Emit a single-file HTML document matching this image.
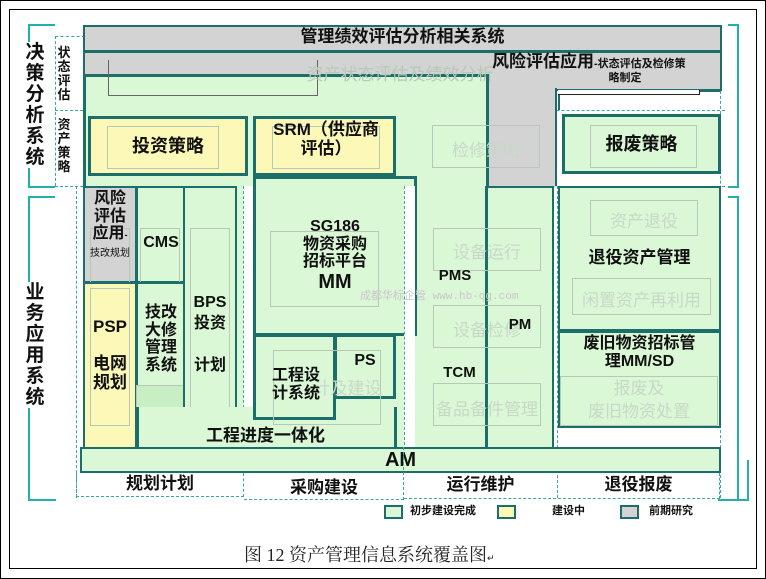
<!DOCTYPE html>
<html><head><meta charset="utf-8"><style>
*{margin:0;padding:0;box-sizing:border-box}
body{width:766px;height:579px;background:#fff;position:relative;overflow:hidden;font-family:"Liberation Sans","Noto Sans CJK SC",sans-serif}
.a{position:absolute}
.g{background:#daf8d6}
.y{background:#fbf8b8}
.gr{background:#d3d3d3}
.b{border:2px solid #1c6e6a}
.b3{border:3px solid #1c6e6a}
.f{border:1px solid #b8c8b8}
.t{font-weight:bold;color:#111;text-align:center;line-height:1.1}
.ft{color:#c8d8c8;text-align:center;font-size:17px}
.dash{border:0 dashed #3aa89e}
.tl{background:#22b0a8}
</style></head><body>
<div class="a" style="left:0;top:0;width:766px;height:579px;border:1px solid #000"></div>
<div class="a" style="left:9px;top:9px;width:748px;height:560px;border:1px solid #000"></div>

<!-- teal brackets -->
<div class="a tl" style="left:28px;top:24px;width:2px;height:164px"></div>
<div class="a tl" style="left:28px;top:24px;width:27px;height:2px"></div>
<div class="a tl" style="left:28px;top:186px;width:27px;height:2px"></div>
<div class="a tl" style="left:28px;top:196px;width:2px;height:305px"></div>
<div class="a tl" style="left:28px;top:196px;width:27px;height:2px"></div>
<div class="a tl" style="left:28px;top:499px;width:28px;height:2px"></div>
<div class="a tl" style="left:737px;top:24px;width:2px;height:164px"></div>
<div class="a tl" style="left:728px;top:24px;width:10px;height:2px"></div>
<div class="a tl" style="left:728px;top:186px;width:10px;height:2px"></div>
<div class="a tl" style="left:737px;top:196px;width:2px;height:305px"></div>
<div class="a tl" style="left:728px;top:196px;width:10px;height:2px"></div>
<div class="a tl" style="left:718px;top:499px;width:31px;height:2px"></div>
<div class="a tl" style="left:747px;top:460px;width:2px;height:41px"></div>

<!-- left labels -->
<div class="a t" style="left:24px;top:42px;width:22px;font-size:19px;background:#fff;line-height:21px">决<br>策<br>分<br>析<br>系<br>统</div>
<div class="a t" style="left:24px;top:282px;width:22px;font-size:19px;background:#fff;line-height:21px">业<br>务<br>应<br>用<br>系<br>统</div>
<div class="a t" style="left:56px;top:46px;width:16px;font-size:13px;line-height:14px">状<br>态<br>评<br>估</div>
<div class="a t" style="left:56px;top:118px;width:16px;font-size:13px;line-height:14px">资<br>产<br>策<br>略</div>
<div class="a dash" style="left:55px;top:36px;width:30px;border-top-width:1px"></div>
<div class="a dash" style="left:55px;top:110px;width:670px;border-top-width:1px"></div>
<div class="a dash" style="left:55px;top:186px;width:670px;border-top-width:1px"></div>
<div class="a dash" style="left:55px;top:36px;height:150px;border-left-width:1px"></div>
<div class="a dash" style="left:76px;top:186px;height:312px;border-left-width:1px"></div>
<div class="a dash" style="left:720px;top:36px;height:462px;border-left-width:1px"></div>

<!-- top gray layers -->
<div class="a gr b" style="left:83px;top:25px;width:639px;height:27px"></div>
<div class="a t" style="left:83px;top:28px;width:639px;font-size:17px">管理绩效评估分析相关系统</div>
<div class="a gr b" style="left:83px;top:51px;width:639px;height:40px"></div>
<div class="a gr" style="left:487px;top:88px;width:70px;height:98px;border-right:2px solid #1c6e6a"></div>
<div class="a g b3" style="left:83px;top:74px;width:406px;height:378px"></div>
<div class="a" style="left:108px;top:60px;width:210px;height:36px;border:1px solid #666;border-top:0"></div>
<div class="a ft" style="left:300px;top:60px;width:200px;color:#b8c8b8">资产状态评估及绩效分析</div>
<div class="a" style="left:558px;top:90px;width:162px;height:20px;background:#fff;border-top:2px solid #1c6e6a;border-left:2px solid #1c6e6a"></div>
<div class="a" style="left:558px;top:90px;width:142px;height:5px;border-bottom:1px solid #222;border-right:1px solid #222;background:#fff"></div>
<div class="a t" style="left:492px;top:53px;width:225px;font-size:17px;text-align:left">风险评估应用<span style="font-size:11px">-状态评估及检修策</span></div>
<div class="a t" style="left:585px;top:72px;width:80px;font-size:11px">略制定</div>

<!-- strategy row -->
<div class="a y b3" style="left:88px;top:116px;width:160px;height:60px"></div>
<div class="a f" style="left:107px;top:126px;width:112px;height:43px"></div>
<div class="a t" style="left:88px;top:137px;width:160px;font-size:18px">投资策略</div>
<div class="a y b3" style="left:253px;top:116px;width:143px;height:60px"></div>
<div class="a f" style="left:272px;top:126px;width:108px;height:43px"></div>
<div class="a t" style="left:256px;top:121px;width:140px;font-size:17px">SRM（供应商<br>评估）</div>
<div class="a f gr" style="left:432px;top:125px;width:108px;height:43px;background:transparent"></div>
<div class="a ft" style="left:432px;top:136px;width:108px">检修策略</div>
<div class="a g b3" style="left:562px;top:114px;width:159px;height:60px"></div>
<div class="a f" style="left:590px;top:125px;width:107px;height:43px"></div>
<div class="a t" style="left:562px;top:135px;width:159px;font-size:18px">报废策略</div>

<!-- business -->
<div class="a" style="left:243px;top:186px;width:10px;height:232px;background:#fff;border-left:1px dashed #3aa89e"></div>
<div class="a gr b" style="left:83px;top:186px;width:54px;height:97px"></div>
<div class="a f" style="left:90px;top:228px;width:40px;height:55px"></div>
<div class="a t" style="left:83px;top:190px;width:54px;font-size:16px">风险<br>评估<br>应用<span style="font-size:9px">-</span><br><span style="font-size:10px;font-weight:normal">技改规划</span></div>
<div class="a y b" style="left:83px;top:282px;width:54px;height:168px"></div>
<div class="a f" style="left:90px;top:288px;width:40px;height:138px"></div>
<div class="a t" style="left:83px;top:318px;width:54px;font-size:17px">PSP<br><br>电网<br>规划</div>
<div class="a g b" style="left:136px;top:186px;width:50px;height:97px"></div>
<div class="a f" style="left:140px;top:228px;width:40px;height:55px"></div>
<div class="a t" style="left:136px;top:234px;width:50px;font-size:16px">CMS</div>
<div class="a g b" style="left:136px;top:282px;width:50px;height:126px"></div>
<div class="a f" style="left:136px;top:385px;width:52px;height:25px;background:#c8eec4"></div>
<div class="a t" style="left:136px;top:304px;width:50px;font-size:16px">技改<br>大修<br>管理<br>系统</div>
<div class="a g b" style="left:183px;top:186px;width:54px;height:233px"></div>
<div class="a f" style="left:190px;top:228px;width:40px;height:180px"></div>
<div class="a t" style="left:183px;top:292px;width:54px;font-size:16px;line-height:21px">BPS<br>投资<br><br>计划</div>
<div class="a g b3" style="left:136px;top:407px;width:261px;height:43px;border-top:0"></div>
<div class="a t" style="left:136px;top:427px;width:259px;font-size:17px">工程进度一体化</div>

<div class="a g b3" style="left:253px;top:176px;width:164px;height:160px"></div>
<div class="a f" style="left:270px;top:231px;width:109px;height:76px"></div>
<div class="a t" style="left:253px;top:218px;width:164px;font-size:16px">SG186<br>物资采购<br>招标平台<br><span style="font-size:20px">MM</span></div>
<div class="a g b3" style="left:253px;top:334px;width:83px;height:86px"></div>
<div class="a g b3" style="left:334px;top:334px;width:62px;height:65px"></div>
<div class="a f" style="left:273px;top:350px;width:108px;height:75px;background:transparent"></div>
<div class="a ft" style="left:300px;top:374px;width:95px">计及建设</div>
<div class="a t" style="left:334px;top:352px;width:62px;font-size:16px">PS</div>
<div class="a t" style="left:256px;top:367px;width:80px;font-size:16px">工程设<br>计系统</div>

<div class="a" style="left:404px;top:186px;width:11px;height:264px;background:#fff;border-left:1px dashed #3aa89e"></div>
<div class="a g b" style="left:485px;top:186px;width:69px;height:264px"></div>
<div class="a" style="left:486px;top:186px;width:2px;height:264px;background:#1c6e6a"></div>
<div class="a f" style="left:433px;top:228px;width:108px;height:43px"></div>
<div class="a ft" style="left:433px;top:238px;width:108px">设备运行</div>
<div class="a f" style="left:433px;top:305px;width:108px;height:43px"></div>
<div class="a ft" style="left:433px;top:316px;width:108px">设备检修</div>
<div class="a f" style="left:433px;top:383px;width:108px;height:43px"></div>
<div class="a ft" style="left:433px;top:395px;width:108px">备品备件管理</div>
<div class="a t" style="left:435px;top:268px;width:40px;font-size:15px">PMS</div>
<div class="a t" style="left:500px;top:317px;width:40px;font-size:15px">PM</div>
<div class="a t" style="left:437px;top:365px;width:45px;font-size:15px">TCM</div>
<div class="a" style="left:360px;top:287px;width:190px;font-size:11px;color:#c8c8c8;font-family:'Liberation Mono',monospace">成都华标企管 www.hb-qg.com</div>

<div class="a" style="left:557px;top:186px;width:1px;height:312px;border-left:1px dashed #3aa89e"></div>
<div class="a g b" style="left:558px;top:186px;width:163px;height:145px"></div>
<div class="a f" style="left:590px;top:200px;width:108px;height:36px"></div>
<div class="a ft" style="left:590px;top:207px;width:108px">资产退役</div>
<div class="a t" style="left:558px;top:249px;width:163px;font-size:17px">退役资产管理</div>
<div class="a f" style="left:572px;top:278px;width:139px;height:37px"></div>
<div class="a ft" style="left:572px;top:286px;width:139px">闲置资产再利用</div>
<div class="a g b" style="left:558px;top:330px;width:163px;height:98px;border-top-width:3px"></div>
<div class="a t" style="left:558px;top:335px;width:163px;font-size:16px">废旧物资招标管<br>理MM/SD</div>
<div class="a f" style="left:560px;top:376px;width:158px;height:50px"></div>
<div class="a ft" style="left:560px;top:377px;width:158px;line-height:23px">报废及<br>废旧物资处置</div>

<!-- AM -->
<div class="a g b" style="left:80px;top:447px;width:641px;height:26px"></div>
<div class="a t" style="left:80px;top:449px;width:641px;font-size:20px">AM</div>

<!-- phase labels -->
<div class="a dash" style="left:76px;top:473px;width:168px;height:24px;border-width:0 1px 1px 1px"></div>
<div class="a dash" style="left:244px;top:447px;width:160px;height:53px;border-width:0 1px 1px 0"></div>
<div class="a dash" style="left:404px;top:473px;width:316px;height:26px;border-width:0 1px 1px 0"></div>
<div class="a t" style="left:76px;top:475px;width:168px;font-size:17px">规划计划</div>
<div class="a t" style="left:244px;top:479px;width:160px;font-size:17px">采购建设</div>
<div class="a t" style="left:404px;top:476px;width:153px;font-size:17px">运行维护</div>
<div class="a t" style="left:557px;top:476px;width:163px;font-size:17px">退役报废</div>

<!-- legend -->
<div class="a g b" style="left:384px;top:505px;width:19px;height:14px"></div>
<div class="a t" style="left:410px;top:505px;font-size:11px;text-align:left">初步建设完成</div>
<div class="a y b" style="left:497px;top:505px;width:19px;height:14px"></div>
<div class="a t" style="left:552px;top:505px;font-size:11px;text-align:left">建设中</div>
<div class="a gr b" style="left:620px;top:505px;width:19px;height:14px"></div>
<div class="a t" style="left:649px;top:505px;font-size:11px;text-align:left">前期研究</div>

<div class="a" style="left:244px;top:541px;width:290px;font-size:18px;font-family:'Liberation Serif','Noto Serif CJK SC',serif;color:#222">图 12 资产管理信息系统覆盖图<span style="font-size:9px">↵</span></div>
</body></html>
